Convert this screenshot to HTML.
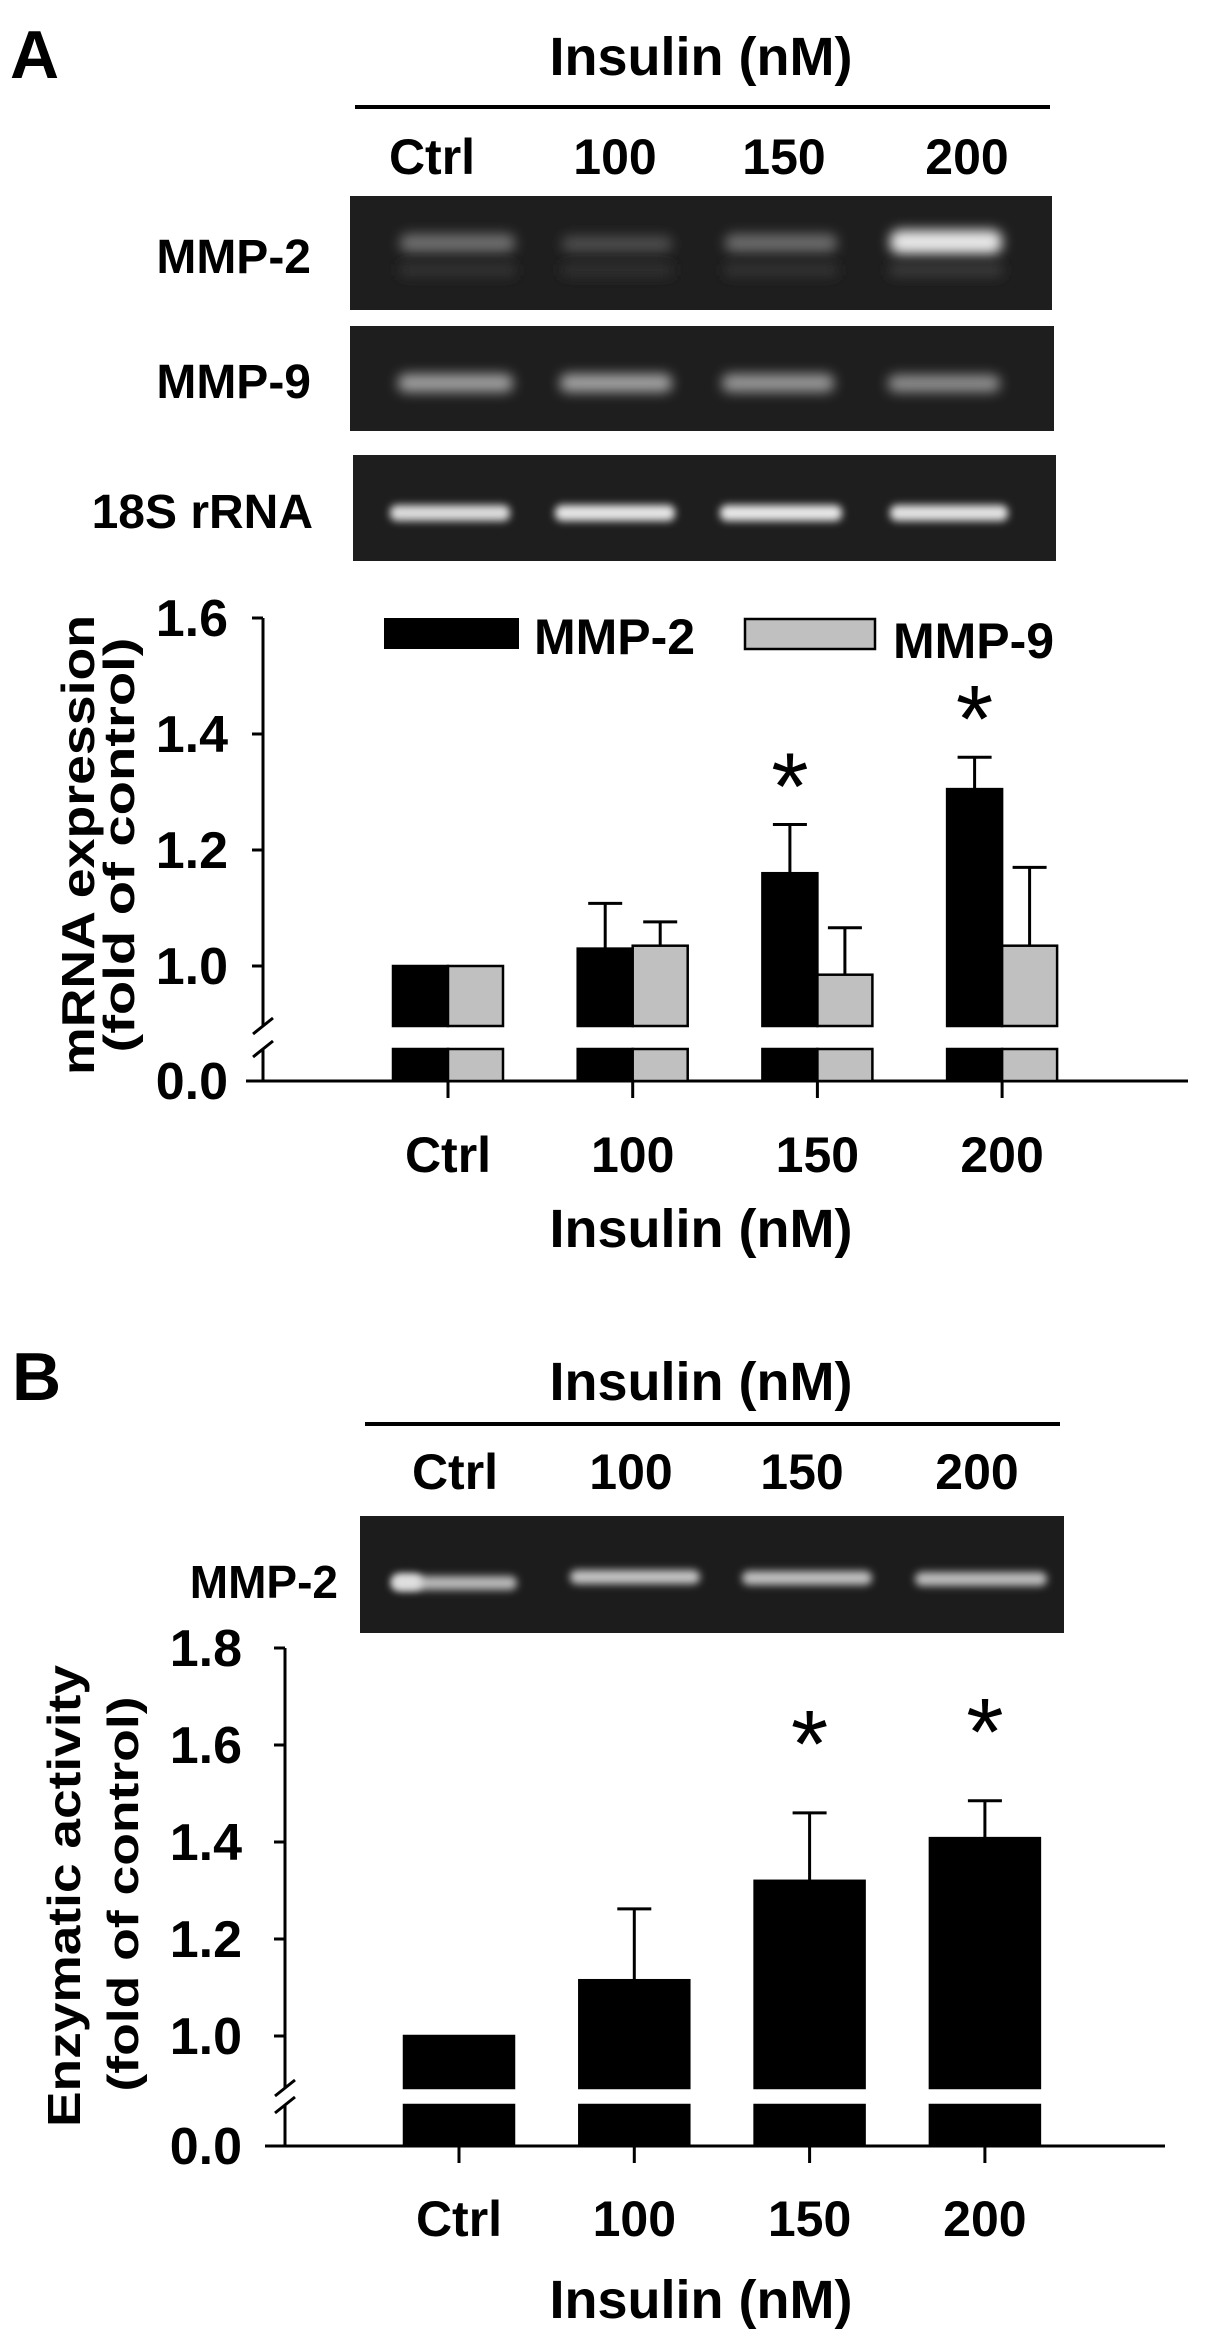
<!DOCTYPE html>
<html><head><meta charset="utf-8">
<style>
html,body{margin:0;padding:0;background:#fff;}
svg{display:block;}
text{font-family:"Liberation Sans",Arial,sans-serif;font-weight:bold;fill:#000;}
text.star{font-weight:normal;}
</style></head>
<body>
<svg id="fig" width="1205" height="2346" viewBox="0 0 1205 2346" xmlns="http://www.w3.org/2000/svg">
<defs>
<filter id="blur" x="-30%" y="-100%" width="160%" height="300%"><feGaussianBlur stdDeviation="6"/></filter>
<filter id="blur2" x="-30%" y="-100%" width="160%" height="300%"><feGaussianBlur stdDeviation="4"/></filter>
</defs>

<!-- Panel A header -->
<text x="10" y="78" font-size="68">A</text>
<text x="701" y="75" font-size="54" text-anchor="middle">Insulin (nM)</text>
<line x1="355" y1="107" x2="1050" y2="107" stroke="#000" stroke-width="4"/>
<g>
<text x="432" y="174" text-anchor="middle" font-size="50">Ctrl</text>
<text x="615" y="174" text-anchor="middle" font-size="50">100</text>
<text x="784" y="174" text-anchor="middle" font-size="50">150</text>
<text x="967" y="174" text-anchor="middle" font-size="50">200</text>
</g>

<!-- Gels A -->
<g>
<rect x="350" y="196" width="702" height="114" fill="#1e1e1e"/>
<rect x="400" y="234" width="115" height="18" rx="8" fill="#707070" filter="url(#blur)"/>
<rect x="562" y="236" width="110" height="16" rx="7" fill="#4e4e4e" filter="url(#blur)"/>
<rect x="725" y="234" width="112" height="18" rx="8" fill="#6c6c6c" filter="url(#blur)"/>
<rect x="890" y="230" width="112" height="24" rx="10" fill="#e8e8e8" filter="url(#blur)"/>
<rect x="400" y="264" width="115" height="12" fill="#353535" filter="url(#blur)"/>
<rect x="562" y="264" width="110" height="12" fill="#333" filter="url(#blur)"/>
<rect x="725" y="264" width="112" height="12" fill="#353535" filter="url(#blur)"/>
<rect x="890" y="264" width="112" height="12" fill="#3c3c3c" filter="url(#blur)"/>
</g>
<text x="311" y="273" font-size="48" text-anchor="end">MMP-2</text>
<g>
<rect x="350" y="326" width="704" height="105" fill="#1e1e1e"/>
<rect x="398" y="374" width="115" height="18" rx="8" fill="#a0a0a0" filter="url(#blur)"/>
<rect x="560" y="374" width="112" height="18" rx="8" fill="#a4a4a4" filter="url(#blur)"/>
<rect x="722" y="374" width="112" height="18" rx="8" fill="#989898" filter="url(#blur)"/>
<rect x="888" y="375" width="112" height="17" rx="8" fill="#909090" filter="url(#blur)"/>
</g>
<text x="311" y="398" font-size="48" text-anchor="end">MMP-9</text>
<g>
<rect x="353" y="455" width="703" height="106" fill="#1e1e1e"/>
<rect x="390" y="505" width="120" height="16" rx="7" fill="#dcdcdc" filter="url(#blur2)"/>
<rect x="555" y="505" width="120" height="16" rx="7" fill="#e6e6e6" filter="url(#blur2)"/>
<rect x="720" y="505" width="122" height="16" rx="7" fill="#e8e8e8" filter="url(#blur2)"/>
<rect x="890" y="505" width="118" height="16" rx="7" fill="#e2e2e2" filter="url(#blur2)"/>
</g>
<text x="313" y="528" font-size="48" text-anchor="end">18S rRNA</text>

<!-- Chart A static pieces -->
<g id="chartA"></g>
<text transform="translate(94,845) rotate(-90)" font-size="46" text-anchor="middle" textLength="460" lengthAdjust="spacingAndGlyphs">mRNA expression</text>
<text transform="translate(134,845) rotate(-90)" font-size="44" text-anchor="middle" textLength="415" lengthAdjust="spacingAndGlyphs">(fold of control)</text>
<text x="701" y="1247" font-size="54" text-anchor="middle">Insulin (nM)</text>

<!-- Legend A -->
<rect x="384" y="618" width="135" height="31" fill="#000"/>
<text x="534" y="654" font-size="50">MMP-2</text>
<rect x="745" y="619" width="130" height="30" fill="#c0c0c0" stroke="#000" stroke-width="2.5"/>
<text x="893" y="658" font-size="50">MMP-9</text>

<!-- Panel B header -->
<text x="12" y="1400" font-size="68">B</text>
<text x="701" y="1400" font-size="54" text-anchor="middle">Insulin (nM)</text>
<line x1="365" y1="1424" x2="1060" y2="1424" stroke="#000" stroke-width="4"/>
<text x="455" y="1489" text-anchor="middle" font-size="50">Ctrl</text>
<text x="631" y="1489" text-anchor="middle" font-size="50">100</text>
<text x="802" y="1489" text-anchor="middle" font-size="50">150</text>
<text x="977" y="1489" text-anchor="middle" font-size="50">200</text>
<g>
<rect x="360" y="1516" width="704" height="117" fill="#1c1c1c"/>
<rect x="392" y="1576" width="125" height="14" rx="7" fill="#b8b8b8" filter="url(#blur2)"/>
<rect x="392" y="1574" width="30" height="16" rx="7" fill="#e0e0e0" filter="url(#blur2)"/>
<rect x="570" y="1570" width="130" height="14" rx="7" fill="#c4c4c4" filter="url(#blur2)"/>
<rect x="742" y="1571" width="130" height="14" rx="7" fill="#c0c0c0" filter="url(#blur2)"/>
<rect x="915" y="1572" width="132" height="14" rx="7" fill="#bcbcbc" filter="url(#blur2)"/>
</g>
<text x="338" y="1598" font-size="46" text-anchor="end">MMP-2</text>

<g id="chartB"></g>
<text transform="translate(80,1896) rotate(-90)" font-size="46" text-anchor="middle" textLength="462" lengthAdjust="spacingAndGlyphs">Enzymatic activity</text>
<text transform="translate(138,1894) rotate(-90)" font-size="44" text-anchor="middle" textLength="395" lengthAdjust="spacingAndGlyphs">(fold of control)</text>
<text x="701" y="2318" font-size="54" text-anchor="middle">Insulin (nM)</text>
</svg>

<script>
// ---- Chart A data ----
var categoriesA = ["Ctrl", "100", "150", "200"];
var mmp2A = [1.0, 1.03, 1.16, 1.305];
var mmp2ErrA = [0, 0.078, 0.084, 0.055];
var mmp9A = [1.0, 1.035, 0.985, 1.035];
var mmp9ErrA = [0, 0.041, 0.081, 0.135];
var sigA = [false, false, true, true];
var ticksA = [1.0, 1.2, 1.4, 1.6];
var tickLabelsA = ["1.0", "1.2", "1.4", "1.6"];
// ---- Chart B data ----
var categoriesB = ["Ctrl", "100", "150", "200"];
var mmp2B = [1.0, 1.115, 1.32, 1.408];
var mmp2ErrB = [0, 0.147, 0.14, 0.077];
var sigB = [false, false, true, true];
var ticksB = [1.0, 1.2, 1.4, 1.6, 1.8];
var tickLabelsB = ["1.0", "1.2", "1.4", "1.6", "1.8"];

var NS = "http://www.w3.org/2000/svg";
function mk(parent, tag, attrs) {
  var e = document.createElementNS(NS, tag);
  for (var k in attrs) e.setAttribute(k, attrs[k]);
  parent.appendChild(e);
  return e;
}

function drawChart(g, cfg) {
  var y = function (v) { return cfg.y1 - (v - 1) * cfg.pxPer; };
  var xc = function (i) { return cfg.x0 + i * cfg.step; };
  var ax = mk(g, "line", {x1: cfg.axX, y1: cfg.topY, x2: cfg.axX, y2: cfg.breakTop, stroke: "#000", "stroke-width": 3});
  
  
  var ax2 = mk(g, "line", {x1: cfg.axX, y1: cfg.breakBot, x2: cfg.axX, y2: cfg.zeroY, stroke: "#000", "stroke-width": 3});
  
  
  var br1 = mk(g, "line", {x1: cfg.axX - 10, y1: cfg.breakTop + 8, x2: cfg.axX + 10, y2: cfg.breakTop - 8, stroke: "#000", "stroke-width": 3});
  
  
  var br2 = mk(g, "line", {x1: cfg.axX - 10, y1: cfg.breakBot + 8, x2: cfg.axX + 10, y2: cfg.breakBot - 8, stroke: "#000", "stroke-width": 3});
  
  
  var xa = mk(g, "line", {x1: cfg.xAxisStart, y1: cfg.zeroY, x2: cfg.xAxisEnd, y2: cfg.zeroY, stroke: "#000", "stroke-width": 3});
  
  
  cfg.ticks.forEach(function (t, i) {
    var tk = mk(g, "line", {x1: cfg.axX - 11, y1: y(t), x2: cfg.axX, y2: y(t), stroke: "#000", "stroke-width": 3});
    
    
    var tl = mk(g, "text", {x: cfg.labelX, y: y(t) + 18, "font-size": 52, "text-anchor": "end"});
    tl.textContent = cfg.tickLabels[i];
    
    
  });
  var zt = mk(g, "line", {x1: cfg.axX - 11, y1: cfg.zeroY, x2: cfg.axX, y2: cfg.zeroY, stroke: "#000", "stroke-width": 3});
  
  
  var zl = mk(g, "text", {x: cfg.labelX, y: cfg.zeroY + 18, "font-size": 52, "text-anchor": "end"});
  zl.textContent = "0.0";
  
  
  cfg.cats.forEach(function (c, i) {
    var xt = mk(g, "line", {x1: xc(i), y1: cfg.zeroY, x2: xc(i), y2: cfg.zeroY + 17, stroke: "#000", "stroke-width": 3});
    
    
    var xl = mk(g, "text", {x: xc(i), y: cfg.catY, "font-size": 50, "text-anchor": "middle"});
    xl.textContent = c;
    
    
  });
  cfg.series.forEach(function (s) {
    s.vals.forEach(function (v, i) {
      var bx = xc(i) + s.off;
      var top = y(v);
      var up = mk(g, "rect", {x: bx, y: top, width: cfg.barW, height: cfg.breakTop - top, fill: s.fill, stroke: "#000", "stroke-width": 2.5});
      
      
      var lo = mk(g, "rect", {x: bx, y: cfg.breakBot, width: cfg.barW, height: cfg.zeroY - cfg.breakBot, fill: s.fill, stroke: "#000", "stroke-width": 2.5});
      
      
      var e = s.errs[i];
      if (e > 0) {
        var cx = bx + cfg.barW / 2;
        var el = mk(g, "line", {x1: cx, y1: top, x2: cx, y2: y(v + e), stroke: "#000", "stroke-width": 3});
        
        
        var ec = mk(g, "line", {x1: cx - 17, y1: y(v + e), x2: cx + 17, y2: y(v + e), stroke: "#000", "stroke-width": 3});
        
        
      }
      if (s.sig && s.sig[i]) {
        var st = mk(g, "text", {x: bx + cfg.barW / 2, y: y(v + e) - cfg.starGap, "font-size": 96, "text-anchor": "middle", "class": "star"});
        st.textContent = "*";
        
        
      }
    });
  });
}

drawChart(document.getElementById("chartA"), {
  y1: 966, pxPer: 580, topY: 618, breakTop: 1026, breakBot: 1049, zeroY: 1081,
  axX: 263, labelX: 228, xAxisStart: 246, xAxisEnd: 1188, x0: 448, step: 184.7,
  catY: 1172, barW: 55, starGap: 5, cats: categoriesA, ticks: ticksA, tickLabels: tickLabelsA,
  series: [
    {name: "mmp2", vals: mmp2A, errs: mmp2ErrA, off: -55, fill: "#000", sig: sigA},
    {name: "mmp9", vals: mmp9A, errs: mmp9ErrA, off: 0, fill: "#c0c0c0"}
  ]
});
drawChart(document.getElementById("chartB"), {
  y1: 2036, pxPer: 485, topY: 1648, breakTop: 2088, breakBot: 2105, zeroY: 2146,
  axX: 285, labelX: 242, xAxisStart: 265, xAxisEnd: 1165, x0: 459, step: 175.3,
  catY: 2236, barW: 110, starGap: 36, cats: categoriesB, ticks: ticksB, tickLabels: tickLabelsB,
  series: [
    {name: "mmp2", vals: mmp2B, errs: mmp2ErrB, off: -55, fill: "#000", sig: sigB}
  ]
});
</script>
</body></html>
